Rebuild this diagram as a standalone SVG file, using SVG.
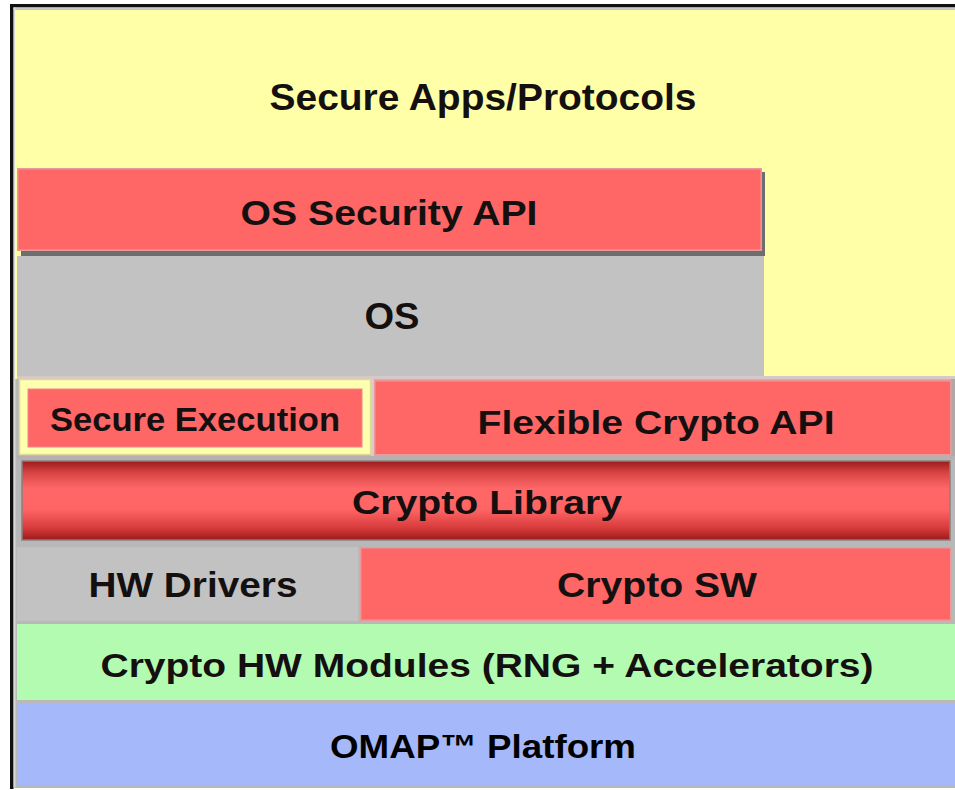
<svg xmlns="http://www.w3.org/2000/svg" width="955" height="790" viewBox="0 0 955 790">
  <defs>
    <linearGradient id="libGrad" x1="0" y1="0" x2="0" y2="1">
      <stop offset="0" stop-color="#9c1a1a"/>
      <stop offset="0.15" stop-color="#d84444"/>
      <stop offset="0.35" stop-color="#ff6868"/>
      <stop offset="0.62" stop-color="#ff6464"/>
      <stop offset="0.85" stop-color="#d63a3a"/>
      <stop offset="1" stop-color="#9c1a1a"/>
    </linearGradient>
    <style>
      .lbl { font-family: "Liberation Sans", Arial, Helvetica, sans-serif; font-weight: bold; fill: #141010; text-anchor: middle; }
      .red { fill: #ff6666; stroke: #e89a9a; stroke-width: 1.5; }
      .gray { fill: #c2c2c2; }
    </style>
  </defs>

  <rect x="0" y="0" width="955" height="790" fill="#ffffff"/>

  <g id="frame">
    <rect x="13" y="8" width="942" height="780" fill="#b8b8b8"/>
    <rect x="10" y="4" width="945" height="3.5" fill="#101010"/>
    <rect x="10" y="4" width="3.5" height="785" fill="#101010"/>
    <rect x="13.5" y="7.5" width="941.5" height="2" fill="#c8c8c8"/>
    <rect x="13.5" y="7.5" width="2" height="780" fill="#d8d8d8"/>
  </g>

  <g id="secure-apps">
    <rect x="15" y="10" width="940" height="369" fill="#ffffa8"/>
    <text class="lbl" x="483" y="110" font-size="37" textLength="427" lengthAdjust="spacingAndGlyphs">Secure Apps/Protocols</text>
  </g>

  <g id="os-security-api">
    <rect x="21" y="172" width="744" height="84" fill="#6e6e6e"/>
    <rect class="red" x="17.75" y="168.75" width="743.5" height="81.5"/>
    <text class="lbl" x="389" y="225" font-size="35" textLength="297" lengthAdjust="spacingAndGlyphs">OS Security API</text>
  </g>

  <g id="os">
    <rect class="gray" x="17" y="256" width="747" height="120"/>
    <text class="lbl" x="392" y="329" font-size="36" textLength="55" lengthAdjust="spacingAndGlyphs">OS</text>
  </g>

  <g id="row4-bg">
    <rect x="17" y="376" width="938" height="3" fill="#d8c8c8"/>
    <rect x="17" y="455" width="938" height="5" fill="#b8b0b0"/>
    <rect x="371" y="379" width="3" height="77" fill="#e0c8c8"/>
    <rect x="951" y="379" width="4" height="77" fill="#b0a8a8"/>
  </g>

  <g id="secure-execution">
    <rect x="19.5" y="379.5" width="351" height="75" fill="#ffffb0" stroke="#dcdc98" stroke-width="1.5"/>
    <rect x="28" y="389" width="334" height="58" fill="#ff6666" stroke="#f08888" stroke-width="1"/>
    <text class="lbl" x="195" y="431" font-size="33" textLength="290" lengthAdjust="spacingAndGlyphs">Secure Execution</text>
  </g>

  <g id="flexible-crypto-api">
    <rect class="red" x="374.75" y="380.75" width="576" height="74"/>
    <text class="lbl" x="656" y="434" font-size="34" textLength="357" lengthAdjust="spacingAndGlyphs">Flexible Crypto API</text>
  </g>

  <g id="crypto-library">
    <rect x="22" y="461" width="928" height="79" fill="url(#libGrad)" stroke="#8a8080" stroke-width="1.5"/>
    <text class="lbl" x="487" y="514" font-size="34" textLength="270" lengthAdjust="spacingAndGlyphs">Crypto Library</text>
  </g>

  <g id="hw-drivers">
    <rect class="gray" x="17" y="547" width="341" height="74"/>
    <text class="lbl" x="193" y="597" font-size="35" textLength="209" lengthAdjust="spacingAndGlyphs">HW Drivers</text>
  </g>

  <g id="crypto-sw">
    <rect class="red" x="360.75" y="547.75" width="590" height="72.5"/>
    <text class="lbl" x="657" y="597" font-size="35" textLength="200" lengthAdjust="spacingAndGlyphs">Crypto SW</text>
  </g>

  <g id="crypto-hw-modules">
    <rect x="17" y="624" width="938" height="76" fill="#b3fbb0"/>
    <text class="lbl" x="487" y="677" font-size="34" textLength="773" lengthAdjust="spacingAndGlyphs">Crypto HW Modules (RNG + Accelerators)</text>
  </g>

  <g id="omap-platform">
    <rect x="17" y="703" width="938" height="82" fill="#a4b8fa"/>
    <text class="lbl" x="483" y="758" font-size="33" style="fill:#000" textLength="306" lengthAdjust="spacingAndGlyphs">OMAP™ Platform</text>
  </g>

  <g id="connectors"></g>
</svg>
